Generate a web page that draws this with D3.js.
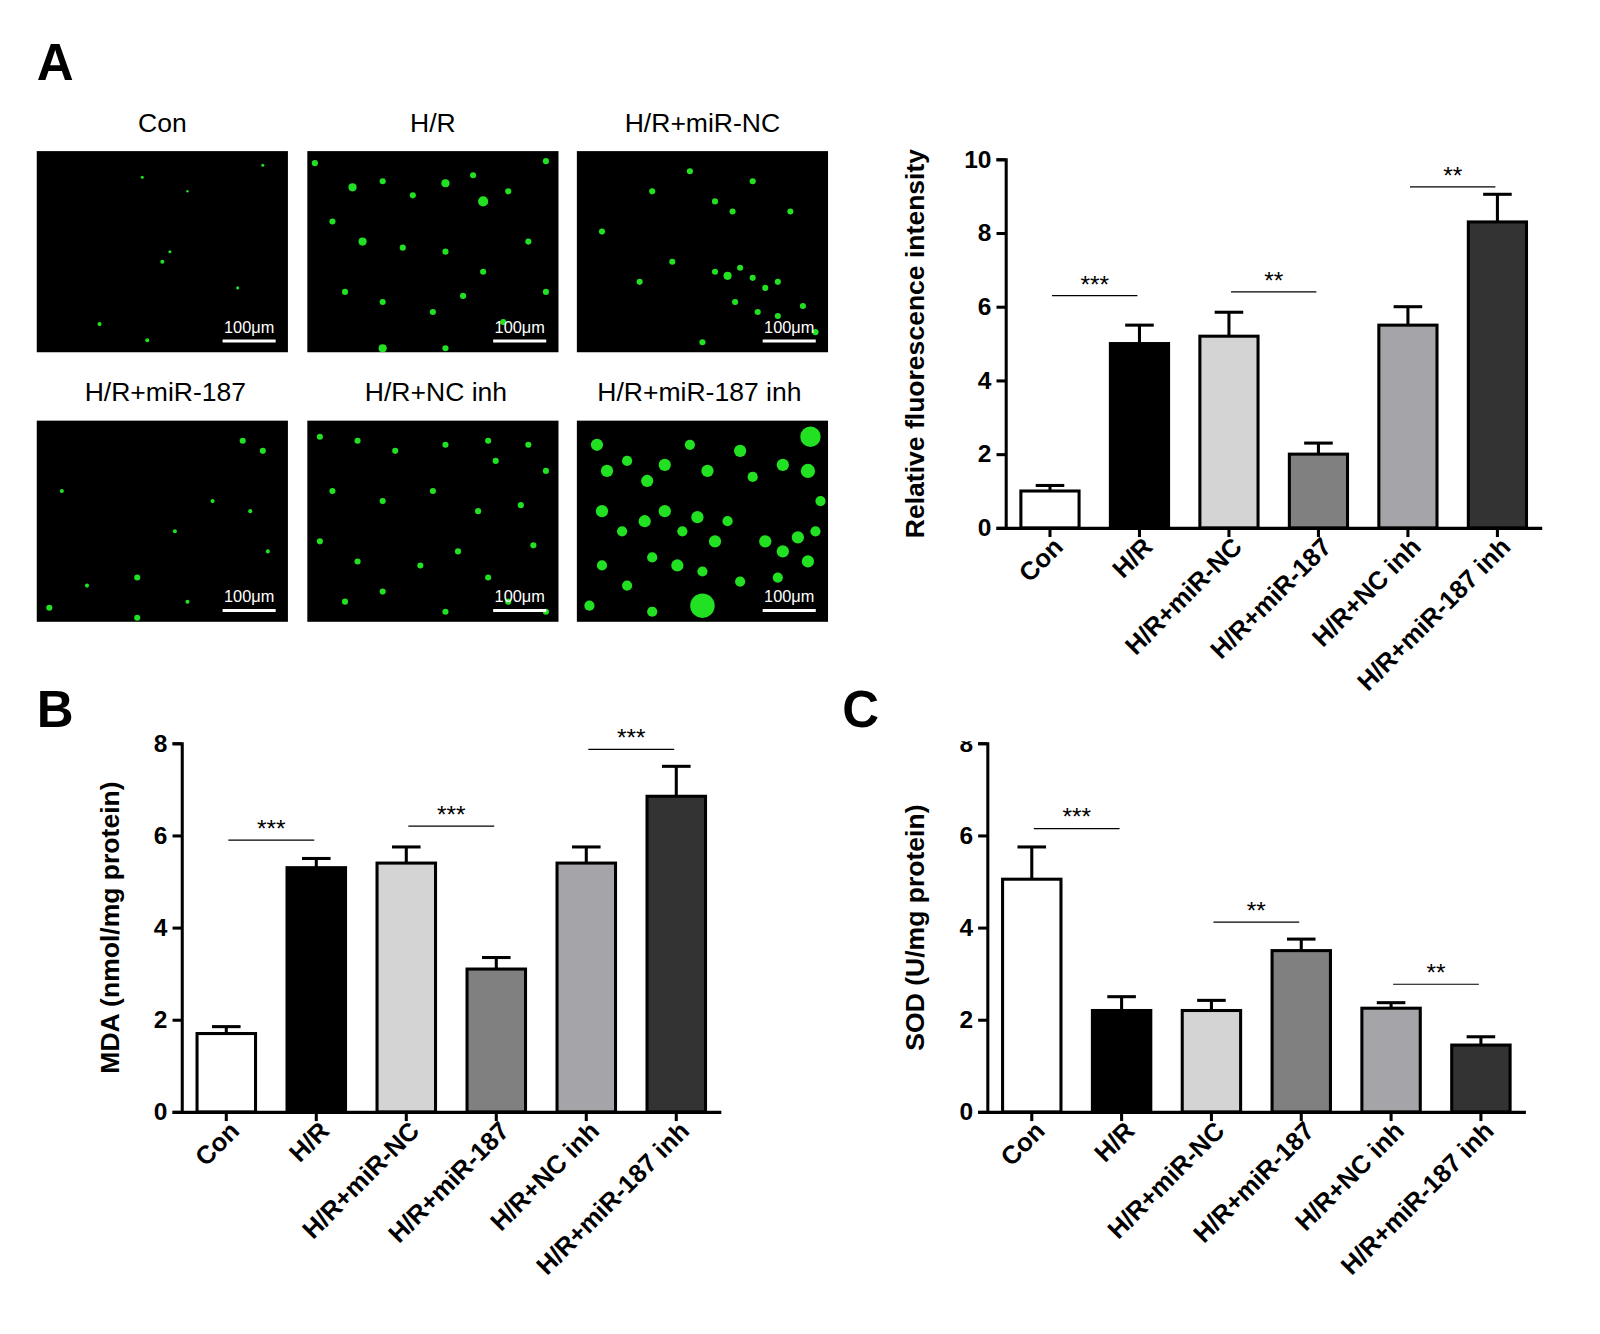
<!DOCTYPE html>
<html><head><meta charset="utf-8">
<script src="https://cdn.jsdelivr.net/npm/d3@7"></script>
<style>body{margin:0;background:#fff}text{font-family:"Liberation Sans",Arial,sans-serif}</style>
</head><body>
<svg id="c" width="1600" height="1334"></svg>
<script>
const categories = ["Con","H/R","H/R+miR-NC","H/R+miR-187","H/R+NC inh","H/R+miR-187 inh"];
const colors = ["#ffffff","#000000","#d4d4d4","#808080","#a5a5a9","#333333"];
const fluoValues = [1.0,5.0,5.2,2.0,5.5,8.3];
const fluoErr = [0.15,0.5,0.65,0.3,0.5,0.75];
const fluoSig = [[0,1,6.3,"***"],[2,3,6.4,"**"],[4,5,9.25,"**"]];
const mdaValues = [1.7,5.3,5.4,3.1,5.4,6.85];
const mdaErr = [0.15,0.2,0.35,0.25,0.35,0.65];
const mdaSig = [[0,1,5.9,"***"],[2,3,6.2,"***"],[4,5,7.87,"***"]];
const sodValues = [5.05,2.2,2.2,3.5,2.25,1.45];
const sodErr = [0.7,0.3,0.22,0.25,0.12,0.18];
const sodSig = [[0,1,6.15,"***"],[2,3,4.12,"**"],[4,5,2.77,"**"]];
// approximate cell spots per micrograph (fractions of image) [x,y,r]
const cellSpots = [
 [[.42,.13,1.5],[.9,.07,1.5],[.5,.55,2],[.53,.5,1.5],[.8,.68,1.5],[.25,.86,2],[.44,.94,2],[.6,.2,1.2]],
 [[.03,.06,3],[.18,.18,4],[.3,.15,3],[.42,.22,3],[.55,.16,4],[.66,.12,3],[.7,.25,5],[.8,.2,3],[.22,.45,4],[.38,.48,3],[.55,.5,3],[.7,.6,3],[.88,.45,3],[.15,.7,3],[.3,.75,3],[.5,.8,3],[.62,.72,3],[.78,.85,3],[.95,.7,3],[.3,.98,4],[.55,.98,3],[.1,.35,3],[.95,.05,3]],
 [[.3,.2,3],[.45,.1,3],[.55,.25,3],[.62,.3,3],[.7,.15,3],[.85,.3,3],[.1,.4,3],[.25,.65,3],[.55,.6,3],[.6,.62,4],[.65,.58,3],[.7,.63,3],[.75,.68,3],[.8,.65,3],[.63,.75,3],[.72,.8,3],[.8,.82,3],[.9,.77,3],[.95,.9,3],[.5,.95,3],[.38,.55,3]],
 [[.82,.1,3],[.9,.15,3],[.7,.4,2],[.85,.45,2],[.1,.35,2],[.55,.55,2],[.92,.65,2],[.4,.78,3],[.2,.82,2],[.05,.93,3],[.4,.98,3],[.6,.9,2]],
 [[.05,.08,3],[.2,.1,3],[.35,.15,3],[.55,.12,3],[.72,.1,3],[.75,.2,3],[.88,.12,3],[.95,.25,3],[.1,.35,3],[.3,.4,3],[.5,.35,3],[.68,.45,3],[.85,.42,3],[.05,.6,3],[.2,.7,3],[.45,.72,3],[.6,.65,3],[.72,.78,3],[.9,.62,3],[.15,.9,3],[.3,.85,3],[.55,.95,3],[.8,.9,3],[.95,.95,3]],
 [[.08,.12,6],[.12,.25,6],[.2,.2,5],[.28,.3,6],[.35,.22,6],[.45,.12,5],[.52,.25,6],[.65,.15,6],[.7,.28,5],[.82,.22,6],[.93,.08,10],[.92,.25,7],[.1,.45,6],[.18,.55,5],[.27,.5,6],[.35,.45,6],[.42,.55,5],[.48,.48,6],[.55,.6,6],[.6,.5,5],[.3,.68,5],[.4,.72,6],[.5,.75,5],[.2,.82,5],[.1,.72,5],[.75,.6,6],[.82,.65,6],[.88,.58,6],[.92,.7,6],[.8,.78,5],[.95,.55,5],[.5,.92,12],[.65,.8,5],[.05,.92,5],[.3,.95,5],[.97,.4,5]]
];
const titles = ["Con","H/R","H/R+miR-NC","H/R+miR-187","H/R+NC inh","H/R+miR-187 inh"];

const svg = d3.select("#c").append("g").attr("transform","scale(1.021)");
const defs = d3.select("#c").append("defs");
function letter(t,x,y){svg.append("text").attr("x",x).attr("y",y).attr("font-size",50).attr("font-weight","bold").text(t);}
letter("A",36,78);letter("B",36,712);letter("C",825,712);

const imgX=[36,301,565], imgY=[148,412], iw=246, ih=197;
titles.forEach((t,i)=>{
  const x=imgX[i%3], y=imgY[Math.floor(i/3)];
  svg.append("text").attr("x",x+iw/2+ (i===3||i===4?3:(i===5?-3:0))).attr("y",y-19).attr("text-anchor","middle").attr("font-size",26).text(t);
  svg.append("rect").attr("x",x).attr("y",y).attr("width",iw).attr("height",ih).attr("fill","#000");
  const g=svg.append("g");
  g.selectAll("circle").data(cellSpots[i]).join("circle")
   .attr("cx",d=>x+d[0]*iw).attr("cy",d=>y+d[1]*ih).attr("r",d=>d[2]).attr("fill","#22e022");
  svg.append("line").attr("x1",x+182).attr("x2",x+234).attr("y1",y+186).attr("y2",y+186).attr("stroke","#fff").attr("stroke-width",3);
  svg.append("text").attr("x",x+208).attr("y",y+178).attr("text-anchor","middle").attr("fill","#fff").attr("font-size",16).text("100μm");
});

function chart(o){
  const y=d3.scaleLinear().domain([0,o.max]).range([o.y0,o.y1]);
  const x=d3.scaleBand().domain(categories).range([o.x0,o.x1]).paddingInner(0.35).paddingOuter(0.17);
  const g=svg.append("g");
  const clip="cl"+o.id;
  defs.append("clipPath").attr("id",clip).append("rect").attr("x",-3000).attr("y",o.clipTop||0).attr("width",6000).attr("height",3000);
  const ay=g.append("g").attr("clip-path",`url(#${clip})`).append("g").attr("transform",`translate(${o.x0},0)`)
    .call(d3.axisLeft(y).tickValues(d3.range(0,o.max+0.01,2)).tickSize(9).tickPadding(5));
  ay.select(".domain").attr("stroke-width",3);
  ay.selectAll(".tick line").attr("stroke-width",3);
  ay.selectAll("text").attr("font-size",24).attr("font-weight","bold").attr("font-family","Liberation Sans,Arial");
  const ax=g.append("g").attr("transform",`translate(0,${o.y0})`).call(d3.axisBottom(x).tickSize(9).tickSizeOuter(0));
  ax.select(".domain").attr("stroke-width",3);
  ax.selectAll(".tick line").attr("stroke-width",3);
  ax.selectAll("text").attr("font-size",25).attr("font-weight","bold").attr("font-family","Liberation Sans,Arial")
    .attr("text-anchor","end").attr("transform","translate(8,14) rotate(-45)").attr("dy","0.35em").attr("dx",0).attr("y",0).attr("x",0);
  const err=g.append("g");
  o.vals.forEach((v,i)=>{
    const cx=x(categories[i])+x.bandwidth()/2;
    err.append("line").attr("x1",cx).attr("x2",cx).attr("y1",y(v)).attr("y2",y(v+o.err[i])).attr("stroke","#000").attr("stroke-width",3);
    err.append("line").attr("x1",cx-14).attr("x2",cx+14).attr("y1",y(v+o.err[i])).attr("y2",y(v+o.err[i])).attr("stroke","#000").attr("stroke-width",3);
  });
  g.selectAll("rect.b").data(o.vals).join("rect").attr("class","b")
    .attr("x",(d,i)=>x(categories[i])).attr("width",x.bandwidth())
    .attr("y",d=>y(d)).attr("height",d=>y(0)-y(d))
    .attr("fill",(d,i)=>colors[i]).attr("stroke","#000").attr("stroke-width",3);
  o.sig.forEach(s=>{
    const a=x(categories[s[0]])+x.bandwidth()/2+2, b=x(categories[s[1]])+x.bandwidth()/2-2;
    g.append("line").attr("x1",a).attr("x2",b).attr("y1",y(s[2])).attr("y2",y(s[2])).attr("stroke","#000").attr("stroke-width",1.2);
    g.append("text").attr("x",(a+b)/2).attr("y",y(s[2])-3).attr("text-anchor","middle").attr("font-size",24).text(s[3]);
  });
  svg.append("text").attr("transform",`translate(${o.tx},${(o.y0+o.y1)/2}) rotate(-90)`).attr("text-anchor","middle")
    .attr("font-size",26).attr("font-weight","bold").text(o.title);
}
chart({id:1,x0:985,x1:1510,y0:517,y1:156,max:10,vals:fluoValues,err:fluoErr,sig:fluoSig,title:"Relative fluorescence intensity",tx:905});
chart({id:2,x0:178,x1:706,y0:1089,y1:728,max:8,vals:mdaValues,err:mdaErr,sig:mdaSig,title:"MDA (nmol/mg protein)",tx:117});
chart({id:3,x0:967,x1:1494,y0:1089,y1:728,max:8,vals:sodValues,err:sodErr,sig:sodSig,title:"SOD (U/mg protein)",tx:905,clipTop:726});
</script>
</body></html>
